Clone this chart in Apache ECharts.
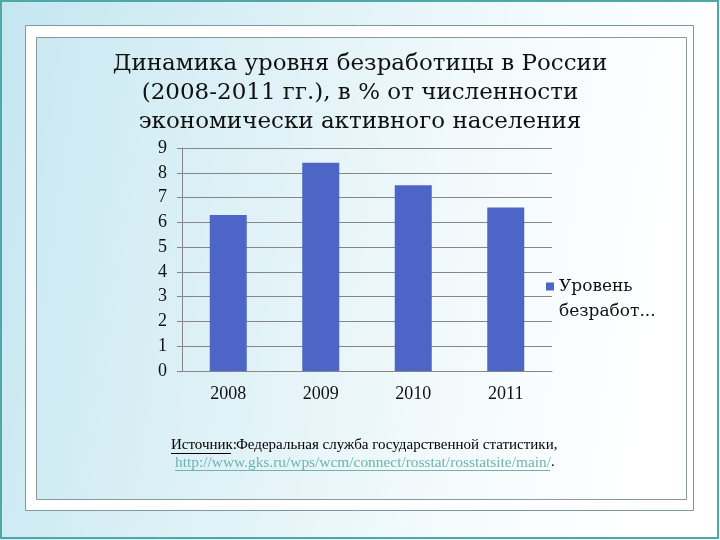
<!DOCTYPE html>
<html>
<head>
<meta charset="utf-8">
<script src="https://cdn.jsdelivr.net/npm/echarts@6/dist/echarts.min.js"></script>
<style>
html,body{margin:0;padding:0;width:720px;height:540px;overflow:hidden;}
#c{width:720px;height:540px;}
</style>
</head>
<body>
<div id="c"></div>
<script>
var categories = ['2008', '2009', '2010', '2011'];
var unemployment = [6.3, 8.4, 7.5, 6.6];
var seriesName = 'Уровень безработицы';
var legendLine1 = 'Уровень';
var legendLine2 = 'безработ...';
var yTicks = [0, 1, 2, 3, 4, 5, 6, 7, 8, 9];
var titleText = 'Динамика уровня безработицы в России\n(2008-2011 гг.), в % от численности\nэкономически активного населения';
var sourceLabel = 'Источник:';
var sourceText = 'Федеральная служба государственной статистики,';
var sourceUrl = 'http://www.gks.ru/wps/wcm/connect/rosstat/rosstatsite/main/';

var serif = '"Liberation Serif", serif';
var dserif = '"DejaVu Serif", serif';
var chart = echarts.init(document.getElementById('c'));

var bgGrad = new echarts.graphic.LinearGradient(0, 0, 1, 0.3, [
  {offset: 0, color: '#c4e6f0'},
  {offset: 0.75, color: '#f4fbfd'},
  {offset: 1, color: '#ffffff'}
]);
var innerGrad = new echarts.graphic.LinearGradient(0, 0, 1, 0.2, [
  {offset: 0, color: '#cbe9f2'},
  {offset: 0.7, color: '#f3fafc'},
  {offset: 1, color: '#ffffff'}
]);

chart.setOption({
  animation: false,
  backgroundColor: bgGrad,
  graphic: [
    {type: 'rect', z: -10, shape: {x: 1, y: 1, width: 717, height: 537}, style: {fill: 'none', stroke: '#4fa7a7', lineWidth: 2}},
    {type: 'rect', z: -9, shape: {x: 25.5, y: 25.5, width: 668, height: 485}, style: {fill: '#ffffff', stroke: '#7a9a9e', lineWidth: 1}},
    {type: 'rect', z: -8, shape: {x: 36.5, y: 37.5, width: 650, height: 462}, style: {fill: innerGrad, stroke: '#8a9a9c', lineWidth: 1}},
    {type: 'text', z: 5, left: 171, top: 438, style: {text: sourceLabel, font: '15px ' + serif, fill: '#000'}},
    {type: 'line', z: 5, shape: {x1: 171, y1: 453.5, x2: 231, y2: 453.5}, style: {stroke: '#000', lineWidth: 1}},
    {type: 'text', z: 5, left: 236, top: 438, style: {text: sourceText, font: '15px ' + serif, fill: '#000'}},
    {type: 'text', z: 5, left: 175, top: 455, style: {text: sourceUrl, font: '15.4px ' + serif, fill: '#6bb5b0'}},
    {type: 'line', z: 5, shape: {x1: 175, y1: 470.5, x2: 550, y2: 470.5}, style: {stroke: '#6bb5b0', lineWidth: 1}},
    {type: 'text', z: 5, left: 551, top: 455, style: {text: '.', font: '15px ' + serif, fill: '#000'}},
    {type: 'text', z: 5, left: 559, top: 303, style: {text: legendLine2, font: '17px ' + dserif, fill: '#111'}}
  ],
  title: {
    text: titleText,
    left: 'center',
    top: 45,
    textStyle: {fontFamily: dserif, fontSize: 23, fontWeight: 'normal', color: '#111', lineHeight: 29}
  },
  legend: {
    left: 546,
    top: 278,
    padding: 0,
    orient: 'vertical',
    itemWidth: 8,
    itemHeight: 8,
    icon: 'rect',
    data: [seriesName],
    formatter: function () { return legendLine1; },
    textStyle: {fontFamily: dserif, fontSize: 17, color: '#111'}
  },
  grid: {left: 182, right: 168, top: 148, bottom: 169},
  xAxis: {
    type: 'category',
    data: categories,
    axisLine: {show: true, lineStyle: {color: '#868686'}},
    axisTick: {show: false},
    axisLabel: {fontFamily: serif, fontSize: 18, color: '#111', margin: 14}
  },
  yAxis: {
    type: 'value',
    min: 0,
    max: 9,
    interval: 1,
    axisLine: {show: true, lineStyle: {color: '#868686'}},
    axisTick: {show: true, length: 5, lineStyle: {color: '#868686'}},
    splitLine: {show: true, lineStyle: {color: '#868686', width: 1}},
    axisLabel: {fontFamily: serif, fontSize: 18, color: '#111', margin: 15,
      formatter: function (v) { return yTicks.indexOf(v) >= 0 ? String(v) : ''; }}
  },
  series: [{
    name: seriesName,
    type: 'bar',
    data: unemployment,
    barWidth: '40%',
    itemStyle: {color: '#4d65c7'}
  }]
});
</script>
</body>
</html>
